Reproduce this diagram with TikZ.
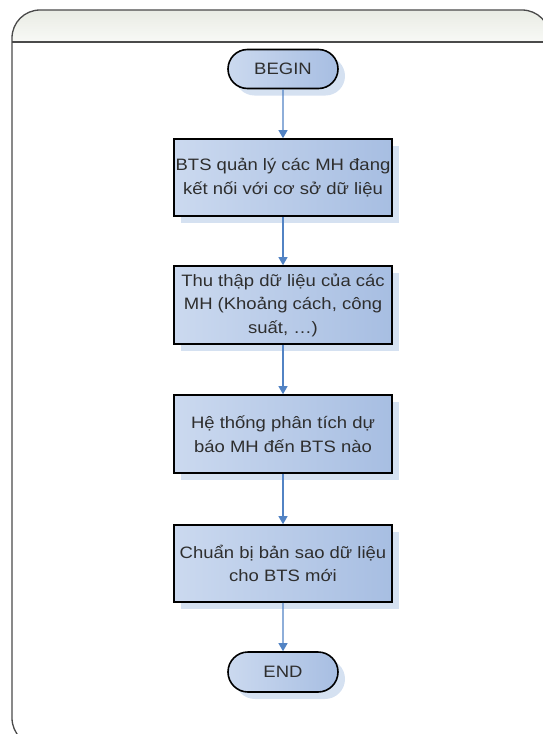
\documentclass[tikz,border=0pt]{standalone}
\usepackage{fontspec}
\setmainfont{Liberation Sans}[FakeStretch=1.12]
\usetikzlibrary{arrows.meta,shapes.misc,shadows}
\definecolor{boxlight}{HTML}{CBD9EF}
\definecolor{boxdark}{HTML}{A7BEE2}
\definecolor{shadowblue}{HTML}{D5E1F1}
\definecolor{linkblue}{HTML}{5283C4}
\definecolor{headtop}{HTML}{E9ECE4}
\definecolor{headbot}{HTML}{F8F9F6}
\definecolor{framegray}{HTML}{4A4A4A}
\definecolor{textgray}{HTML}{2E2E2E}
\begin{document}
\begin{tikzpicture}[x=1pt,y=-1pt,
        every node/.style={font=\fontsize{16.5}{23.5}\selectfont, text=textgray, align=center},
        stepbox/.style={draw=black, line width=1.6pt, left color=boxlight, right color=boxdark,
            minimum width=218pt, minimum height=77pt, inner sep=0pt,
            drop shadow={shadow xshift=7pt, shadow yshift=-7pt, fill=shadowblue, opacity=1}},
        endpoint/.style={stepbox, rounded rectangle, minimum width=110pt, minimum height=39pt},
        link/.style={draw=linkblue, line width=1.1pt, -{Triangle[width=9pt,length=8pt]}}]
            \useasboundingbox (0,0) rectangle (543,734);
            \begin{scope}
                \clip[rounded corners=28pt] (12,10) rectangle (550,746);
                \fill[top color=headtop, bottom color=headbot] (12,10) rectangle (550,42);
            \end{scope}
            \draw[framegray, line width=1.3pt, rounded corners=28pt] (12,10) rectangle (550,746);
            \draw[framegray, line width=1.3pt] (12,42) -- (550,42);
            \node[endpoint] (start) at (283,69) {BEGIN};
            \node[stepbox] (manage) at (283,177.5) {BTS quản lý các MH đang\\kết nối với cơ sở dữ liệu};
            \node[stepbox, minimum height=78pt] (gather) at (283,305) {Thu thập dữ liệu của các\\MH (Khoảng cách, công\\suất, …)};
            \node[stepbox, minimum height=78pt] (predict) at (283,434) {Hệ thống phân tích dự\\báo MH đến BTS nào};
            \node[stepbox] (copy) at (283,563.5) {Chuẩn bị bản sao dữ liệu\\cho BTS mới};
            \node[endpoint, minimum height=40pt] (stop) at (283,672) {END};
            \draw[link] (start) -- (manage);
            \draw[link] (manage) -- (gather);
            \draw[link] (gather) -- (predict);
            \draw[link] (predict) -- (copy);
            \draw[link] (copy) -- (stop);
        \end{tikzpicture}
\end{document}
